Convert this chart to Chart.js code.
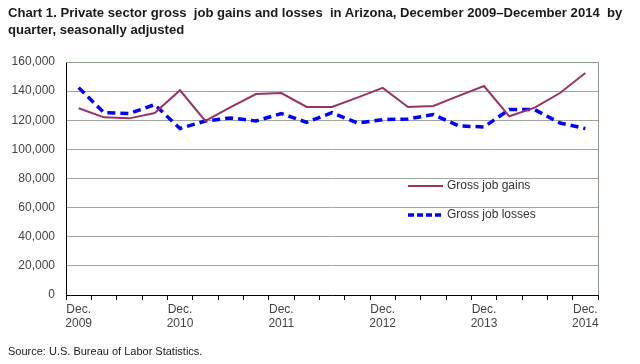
<!DOCTYPE html>
<html>
<head>
<meta charset="utf-8">
<script src="https://cdn.jsdelivr.net/npm/chart.js@4"></script>
<style>
  body { margin: 0; background: #fff; }
  #wrap { position: relative; width: 640px; height: 364px; }
  #title { position: absolute; left: 8px; top: 4px; font: bold 13px "Liberation Sans", Arial, sans-serif; color: #1a1a1a; line-height: 17px; white-space: nowrap; transform-origin: 0 0; }
  #source { position: absolute; left: 8px; top: 345px; font: 11px "Liberation Sans", Arial, sans-serif; color: #1a1a1a; white-space: nowrap; transform-origin: 0 0; }
  canvas { position: absolute; left: 0; top: 0; }
</style>
</head>
<body>
<div id="wrap">
  <canvas id="chart" width="640" height="364"></canvas>
  <div id="title"><span id="t1">Chart 1. Private sector gross&nbsp; job gains and losses&nbsp; in Arizona, December 2009–December 2014&nbsp; by</span><br><span>quarter, seasonally adjusted</span></div>
  <div id="source">Source: U.S. Bureau of Labor Statistics.</div>
</div>
<script>
var quarters = ["Dec. 2009","Mar. 2010","Jun. 2010","Sep. 2010","Dec. 2010","Mar. 2011","Jun. 2011","Sep. 2011","Dec. 2011","Mar. 2012","Jun. 2012","Sep. 2012","Dec. 2012","Mar. 2013","Jun. 2013","Sep. 2013","Dec. 2013","Mar. 2014","Jun. 2014","Sep. 2014","Dec. 2014"];
var gains = [128200,122000,121300,125000,140600,119500,129000,138000,138700,129100,129100,135500,142200,129100,129800,136700,143500,122700,128700,138700,152500];
var losses = [142400,125200,124600,130700,114300,119500,121600,119500,124600,118600,125200,118100,120400,120900,123900,116100,115400,127300,127300,118100,114300];
var yTicks = [0,20000,40000,60000,80000,100000,120000,140000,160000];

// squeeze title to the reference width
var t = document.getElementById("title");
var t1 = document.getElementById("t1");
t.style.transform = "scaleX(" + (614 / t1.offsetWidth) + ")";

var legendPlugin = {
  id: "frameAndLegend",
  afterDraw: function(chart) {
    var ctx = chart.ctx, a = chart.chartArea;
    ctx.save();
    ctx.strokeStyle = "#8c9a8c";
    ctx.lineWidth = 1;
    ctx.beginPath();
    ctx.moveTo(a.left, a.top + 0.5);
    ctx.lineTo(a.right + 0.5, a.top + 0.5);
    ctx.lineTo(a.right + 0.5, a.bottom);
    ctx.stroke();
    var rows = [186, 215];
    var dashes = [[], [6, 3]];
    chart.data.datasets.forEach(function(ds, i) {
      ctx.beginPath();
      ctx.strokeStyle = ds.borderColor;
      ctx.lineWidth = ds.borderWidth;
      ctx.setLineDash(dashes[i]);
      ctx.moveTo(408, rows[i]);
      ctx.lineTo(443, rows[i]);
      ctx.stroke();
      ctx.setLineDash([]);
      ctx.fillStyle = "#333";
      ctx.font = "12px 'Liberation Sans', Arial, sans-serif";
      ctx.textBaseline = "middle";
      ctx.fillText(ds.label, 447, rows[i]);
    });
    ctx.restore();
  }
};

new Chart(document.getElementById("chart"), {
  type: "line",
  data: {
    labels: quarters,
    datasets: [
      { label: "Gross job gains", data: gains, borderColor: "#993366", borderWidth: 2, pointRadius: 0, tension: 0, fill: false },
      { label: "Gross job losses", data: losses, borderColor: "#0000ff", borderWidth: 3.5, borderDash: [8, 5], pointRadius: 0, tension: 0, fill: false }
    ]
  },
  options: {
    responsive: false,
    animation: false,
    layout: { padding: { left: 0, top: 62, right: 42, bottom: 0 } },
    plugins: { legend: { display: false }, tooltip: { enabled: false } },
    scales: {
      x: {
        offset: true,
        grid: { display: true, offset: true, drawOnChartArea: false, color: "#000", tickLength: 5 },
        border: { color: "#000", width: 1 },
        ticks: {
          autoSkip: false, maxRotation: 0, color: "#444", padding: 2,
          font: { family: "'Liberation Sans', Arial, sans-serif", size: 12 },
          callback: function(v, i) {
            if (i % 4 !== 0) return "";
            return quarters[i].split(" ");
          }
        },
        afterFit: function(s) { s.height = 69; }
      },
      y: {
        min: 0, max: 160000,
        afterBuildTicks: function(s) { s.ticks = yTicks.map(function(v) { return { value: v }; }); },
        grid: { color: "#a0a8a0", drawTicks: false },
        border: { color: "#000", width: 1 },
        ticks: {
          color: "#444", padding: 11,
          font: { family: "'Liberation Sans', Arial, sans-serif", size: 12 },
          callback: function(v) { return v.toLocaleString("en-US"); }
        },
        afterFit: function(s) { s.width = 66; }
      }
    }
  },
  plugins: [legendPlugin]
});
</script>
</body>
</html>
